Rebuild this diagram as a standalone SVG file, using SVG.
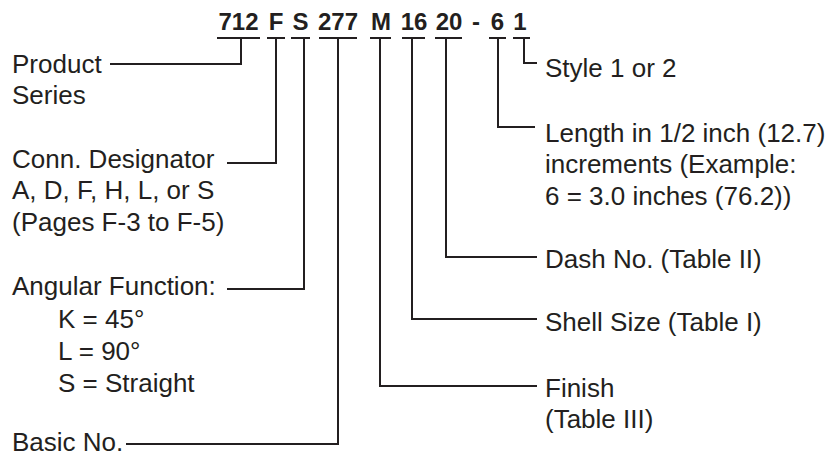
<svg xmlns="http://www.w3.org/2000/svg" width="830" height="457" viewBox="0 0 830 457">
<style>
.t{font-family:"Liberation Sans",Arial,sans-serif;font-size:26px;fill:#231f20}
.h{font-family:"Liberation Sans",Arial,sans-serif;font-size:24px;font-weight:bold;fill:#231f20;text-anchor:middle}
.c{fill:none;stroke:#231f20;stroke-width:2}
</style>
<rect width="830" height="457" fill="#fff"/>
<g id="code">
<text class="h" x="238.5" y="30">712</text>
<text class="h" x="276" y="30">F</text>
<text class="h" x="300.5" y="30">S</text>
<text class="h" x="338" y="30">277</text>
<text class="h" x="381" y="30">M</text>
<text class="h" x="414" y="30">16</text>
<text class="h" x="449" y="30">20</text>
<text class="h" x="476" y="30">-</text>
<text class="h" x="497.5" y="30">6</text>
<text class="h" x="520" y="30">1</text>
</g>
<g id="connectors" class="c">
<path d="M217 38H260M241 38V64H110"/>
<path d="M267 38H285M276 38V163H227"/>
<path d="M291 38H310M304 38V289H227"/>
<path d="M319 38H357M338 38V444H126"/>
<path d="M370 38H391M380 38V386H537"/>
<path d="M402 38H425M412 38V319H537"/>
<path d="M435 38H462M446 38V257H537"/>
<path d="M489 38H506M498 38V127H535"/>
<path d="M513 38H530M524 38V63H537"/>
</g>
<g id="product"><text class="t" x="12" y="73">Product</text><text class="t" x="12" y="104">Series</text></g>
<g id="conn"><text class="t" x="12" y="168">Conn. Designator</text><text class="t" x="12" y="199">A, D, F, H, L, or S</text><text class="t" x="12" y="231">(Pages F-3 to F-5)</text></g>
<g id="angular"><text class="t" x="12" y="295">Angular Function:</text><text class="t" x="58" y="328">K = 45°</text><text class="t" x="58" y="360">L = 90°</text><text class="t" x="58" y="392">S = Straight</text></g>
<g id="basic"><text class="t" x="12" y="451">Basic No.</text></g>
<g id="style"><text class="t" x="545" y="77">Style 1 or 2</text></g>
<g id="length"><text class="t" x="545" y="142">Length in 1/2 inch (12.7)</text><text class="t" x="545" y="173">increments (Example:</text><text class="t" x="545" y="205">6 = 3.0 inches (76.2))</text></g>
<g id="dash"><text class="t" x="545" y="268">Dash No. (Table II)</text></g>
<g id="shell"><text class="t" x="545" y="331">Shell Size (Table I)</text></g>
<g id="finish"><text class="t" x="545" y="397">Finish</text><text class="t" x="545" y="428">(Table III)</text></g>
</svg>
